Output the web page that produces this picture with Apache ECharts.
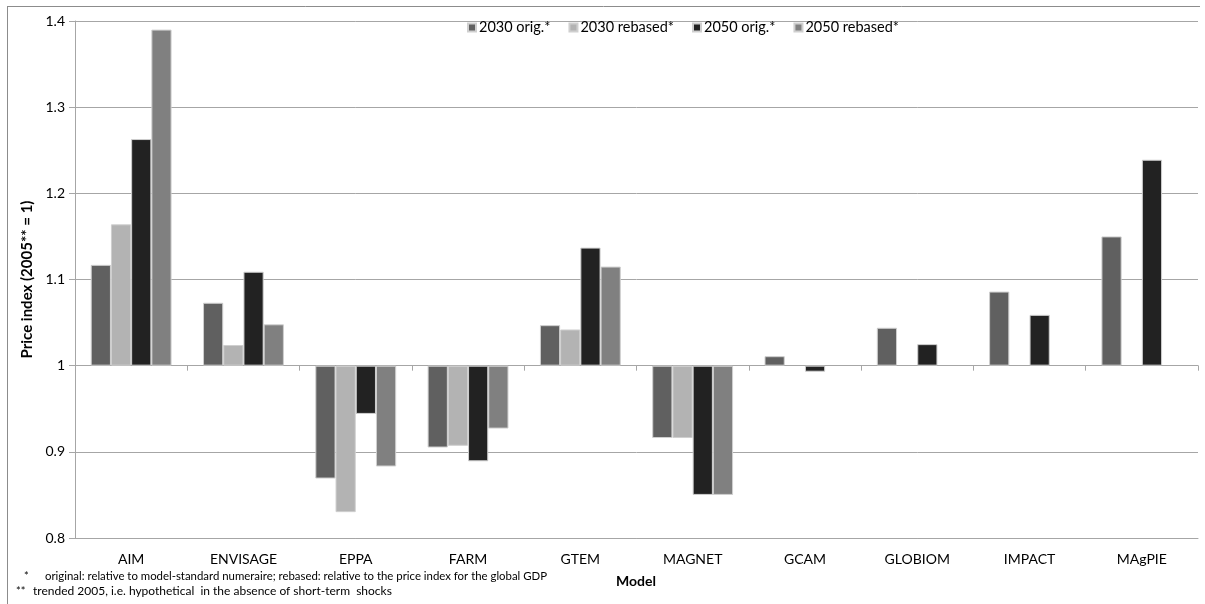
<!DOCTYPE html>
<html>
<head>
<meta charset="utf-8">
<script src="https://cdn.jsdelivr.net/npm/echarts@6/dist/echarts.min.js"></script>
<style>
  html, body { margin: 0; padding: 0; background: #fff; }
  #chart { width: 1205px; height: 604px; }
</style>
</head>
<body>
<div id="chart"></div>
<script>
// models on the x axis
const models = ['AIM', 'ENVISAGE', 'EPPA', 'FARM', 'GTEM', 'MAGNET', 'GCAM', 'GLOBIOM', 'IMPACT', 'MAgPIE']

// price index values (2005 = 1), null = not reported
const orig2030 = [1.117, 1.073, 0.869, 0.905, 1.047, 0.916, 1.011, 1.044, 1.086, 1.150]
const rebased2030 = [1.164, 1.024, 0.830, 0.907, 1.042, 0.916, null, null, null, null]
const orig2050 = [1.263, 1.109, 0.944, 0.889, 1.137, 0.850, 0.993, 1.025, 1.059, 1.239]
const rebased2050 = [1.390, 1.048, 0.883, 0.927, 1.115, 0.850, null, null, null, null]

const seriesNames = ['2030 orig.*', '2030 rebased*', '2050 orig.*', '2050 rebased*']
const yTicks = [0.8, 0.9, 1, 1.1, 1.2, 1.3, 1.4]

const BASE = 1 // bars start from index = 1
const FONT = 'Lato, "Open Sans", sans-serif'
const GRID_COLOR = '#a6a6a6'

const chart = echarts.init(document.getElementById('chart'), null, { renderer: 'canvas' })

function shift(arr) {
  return arr.map(v => (v == null ? '-' : +(v - BASE).toFixed(4)))
}

function barSeries(name, data, color) {
  return {
    name: name,
    type: 'bar',
    xAxisIndex: 0,
    data: shift(data),
    barGap: '0%',
    barCategoryGap: '28%',
    itemStyle: {
      color: color,
      borderColor: '#cfcfcf',
      borderWidth: 1
    },
    animation: false
  }
}

chart.setOption({
  backgroundColor: '#fff',
  textStyle: { fontFamily: FONT },
  grid: {
    left: 75,
    right: 7,
    top: 21,
    bottom: 66,
    containLabel: false,
    outerBoundsMode: 'none'
  },
  legend: {
    data: seriesNames,
    left: 462,
    top: 15,
    itemWidth: 8,
    itemHeight: 8,
    itemGap: 18,
    icon: 'rect',
    textStyle: { fontFamily: FONT, fontSize: 14.5, color: '#000', padding: [0, 0, 0, -2] }
  },
  xAxis: [
    {
      type: 'category',
      data: models,
      position: 'bottom',
      axisLine: { onZero: false, lineStyle: { color: GRID_COLOR } },
      axisTick: { show: false },
      axisLabel: { fontFamily: FONT, fontSize: 14, color: '#000', margin: 14 },
      splitLine: { show: false }
    },
    {
      type: 'category',
      data: models,
      position: 'top',
      axisLine: { onZero: true, onZeroAxisIndex: 0, lineStyle: { color: GRID_COLOR } },
      axisTick: { show: true, inside: true, length: 5, lineStyle: { color: GRID_COLOR } },
      axisLabel: { show: false },
      splitLine: { show: false }
    }
  ],
  yAxis: {
    type: 'value',
    min: yTicks[0] - BASE,
    max: yTicks[yTicks.length - 1] - BASE,
    interval: 0.1,
    name: 'Price index (2005** = 1)',
    nameLocation: 'middle',
    nameGap: 40,
    nameTextStyle: { fontFamily: FONT, fontSize: 15, fontWeight: 'bold', color: '#000' },
    axisLine: { show: true, lineStyle: { color: GRID_COLOR } },
    axisTick: { show: true, length: 6, lineStyle: { color: GRID_COLOR } },
    axisLabel: {
      fontFamily: FONT,
      fontSize: 14,
      color: '#000',
      margin: 10,
      formatter: v => String(Math.round((v + BASE) * 10) / 10)
    },
    splitLine: { show: true, lineStyle: { color: GRID_COLOR, width: 1 } }
  },
  graphic: [
    // chart border (top and left edges visible)
    { type: 'line', shape: { x1: 7, y1: 6.5, x2: 1200, y2: 6.5 }, style: { stroke: '#8c8c8c', lineWidth: 1 } },
    { type: 'line', shape: { x1: 7.5, y1: 6, x2: 7.5, y2: 604 }, style: { stroke: '#8c8c8c', lineWidth: 1 } },
    {
      type: 'text', x: 636, y: 581,
      style: { text: 'Model', fontFamily: FONT, fontSize: 14, fontWeight: 'bold', fill: '#000', align: 'center', verticalAlign: 'middle' }
    },
    {
      type: 'text', x: 24, y: 576,
      style: { text: '*', fontFamily: FONT, fontSize: 11, fill: '#000', verticalAlign: 'middle' }
    },
    {
      type: 'text', x: 45, y: 576,
      style: {
        text: 'original: relative to model-standard numeraire; rebased: relative to the price index for the global GDP',
        fontFamily: FONT, fontSize: 11.4, fill: '#000', verticalAlign: 'middle'
      }
    },
    {
      type: 'text', x: 16, y: 591,
      style: { text: '**', fontFamily: FONT, fontSize: 11, fill: '#000', verticalAlign: 'middle' }
    },
    {
      type: 'text', x: 33, y: 591,
      style: {
        text: 'trended 2005, i.e. hypothetical  in the absence of short-term  shocks',
        fontFamily: FONT, fontSize: 12, fill: '#000', verticalAlign: 'middle'
      }
    }
  ],
  series: [
    barSeries(seriesNames[0], orig2030, '#606060'),
    barSeries(seriesNames[1], rebased2030, '#b3b3b3'),
    barSeries(seriesNames[2], orig2050, '#222222'),
    barSeries(seriesNames[3], rebased2050, '#808080')
  ]
})
</script>
</body>
</html>
